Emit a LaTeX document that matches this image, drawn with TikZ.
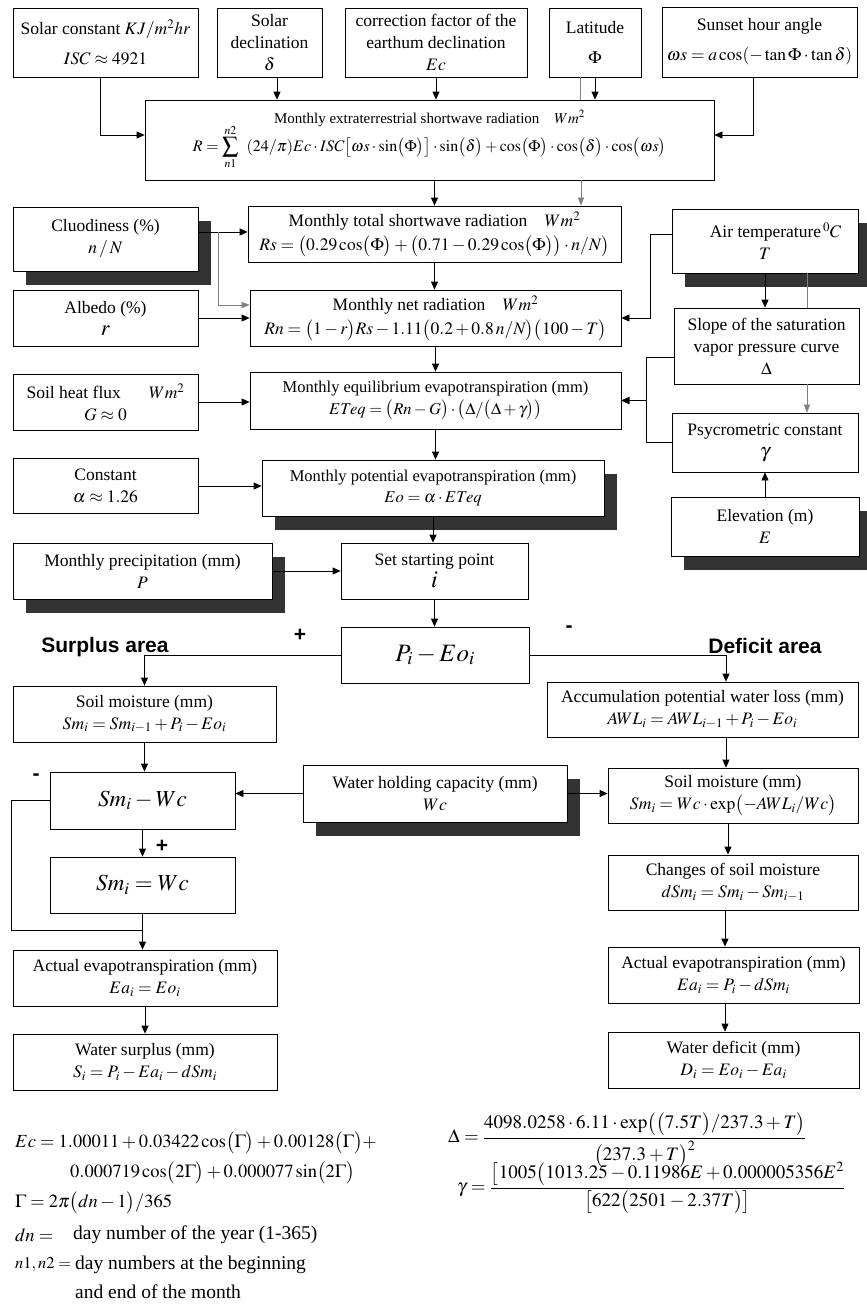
\documentclass[tikz,border=0pt]{standalone}
\usepackage{mathptmx}
\usepackage[no-math]{fontspec}
\setmainfont{Liberation Serif}
\setsansfont{Liberation Sans}
\usetikzlibrary{arrows.meta,shadows}

\tikzset{
box/.style={draw,line width=0.8pt,fill=white,align=center,inner sep=2pt,font=\fontsize{17.5}{22}\selectfont},
dropbox/.style={drop shadow={shadow xshift=13pt,shadow yshift=-14pt,fill=black!80,opacity=1}},
arr/.style={line width=0.8pt,-{Triangle[length=8pt,width=7pt]}},
faint/.style={line width=0.5pt,gray},
fainta/.style={faint,-{Triangle[length=8pt,width=6pt]}},
sign/.style={inner sep=0pt,font=\fontsize{21}{24}\selectfont\sffamily\bfseries},
formula/.style={anchor=west,inner sep=0pt,font=\fontsize{18.5}{22}\selectfont},
note/.style={anchor=west,inner sep=0pt,font=\fontsize{19.5}{22}\selectfont}
}

\begin{document}
\begin{tikzpicture}[x=1pt,y=-1pt]
\useasboundingbox[fill=white](0,0)rectangle(867,1312);
\node[box,minimum width=185pt,minimum height=69pt](solar)at(105.5,42.5){Solar constant $KJ/m^2hr$\\[8pt]$ISC\approx4921$};
\node[box,minimum width=105pt,minimum height=69pt](decl)at(269.5,42.5){Solar\\declination\\$\delta$};
\node[box,minimum width=182pt,minimum height=69pt](corr)at(436,42.5){correction factor of the\\earthum declination\\$Ec$};
\node[box,minimum width=92pt,minimum height=69pt](lat)at(595,42.5){Latitude\\[8pt]$\Phi$};
\node[box,minimum width=195pt,minimum height=70pt](sunset)at(759.5,42){Sunset hour angle\\[8pt]$\omega s=a\cos(-\tan\Phi\cdot\tan\delta)$};
\node[box,font=\fontsize{15}{19}\selectfont,minimum width=569pt,minimum height=80pt](rad)at(429.5,140){Monthly extraterrestrial shortwave radiation\quad$Wm^2$\\[-3pt]{\fontsize{16}{19}\selectfont$\displaystyle R=\sum_{n1}^{n2}\ \ (24/\pi)Ec\cdot ISC\bigl[\omega s\cdot\sin\bigl(\Phi\bigr)\bigr]\cdot\sin\bigl(\delta\bigr)+\cos\bigl(\Phi\bigr)\cdot\cos\bigl(\delta\bigr)\cdot\cos\bigl(\omega s\bigr)$}};
\node[box,minimum width=373pt,minimum height=56pt](rs)at(434.5,234){Monthly total shortwave radiation\quad$Wm^2$\\[2pt]$Rs=\bigl(0.29\cos\bigl(\Phi\bigr)+\bigl(0.71-0.29\cos\bigl(\Phi\bigr)\bigr)\cdot n/N\bigr)$};
\node[box,minimum width=371pt,minimum height=56pt](rn)at(435.5,318){Monthly net radiation\quad$Wm^2$\\[2pt]$Rn=\bigl(1-r\bigr)Rs-1.11\bigl(0.2+0.8\,n/N\bigr)\bigl(100-T\bigr)$};
\node[box,font=\fontsize{16.5}{21}\selectfont,minimum width=371pt,minimum height=57pt](eteq)at(435.5,400.5){Monthly equilibrium evapotranspiration (mm)\\[1pt]$ETeq=\bigl(Rn-G\bigr)\cdot\bigl(\Delta/\bigl(\Delta+\gamma\bigr)\bigr)$};
\node[box,dropbox,font=\fontsize{16.5}{21}\selectfont,minimum width=342pt,minimum height=56pt](eo)at(433,488){Monthly potential evapotranspiration (mm)\\$Eo=\alpha\cdot ETeq$};
\node[box,dropbox,minimum width=185pt,minimum height=64pt](cloud)at(105.5,239){Cluodiness (\%)\\$n\,/\,N$};
\node[box,minimum width=185pt,minimum height=56pt](albedo)at(105.5,318){Albedo (\%)\\{\fontsize{22}{22}\selectfont$r$}};
\node[box,minimum width=185pt,minimum height=56pt](soilheat)at(105.5,402){Soil heat flux\hspace{1.6em}$Wm^2$\\$G\approx0$};
\node[box,minimum width=185pt,minimum height=55pt](const)at(105.5,486){Constant\\$\alpha\approx1.26$};
\node[box,dropbox,minimum width=259pt,minimum height=56pt](precip)at(142.5,571){Monthly precipitation (mm)\\$P$};
\node[box,dropbox,minimum width=186pt,minimum height=64pt](air)at(765,241){\hspace{1.2em}Air temperature$\,^0C$\\$T$};
\node[box,minimum width=185pt,minimum height=76pt](slope)at(766.5,346){Slope of the saturation\\vapor pressure curve\\$\Delta$};
\node[box,minimum width=186pt,minimum height=59pt](psy)at(765,442.5){Psycrometric constant\\{\fontsize{20}{20}\selectfont$\gamma$}};
\node[box,dropbox,minimum width=188pt,minimum height=59pt](elev)at(765,526.5){Elevation (m)\\$E$};
\node[box,minimum width=187pt,minimum height=56pt](start)at(434.5,571){Set starting point\\{\fontsize{24}{22}\selectfont$i$}};
\node[box,minimum width=188pt,minimum height=56pt](diff)at(435,655){\fontsize{25}{27}\selectfont$P_i-Eo_i$};
\node[box,minimum width=263pt,minimum height=56pt](smsur)at(144.5,714){Soil moisture (mm)\\$Sm_i=Sm_{i-1}+P_i-Eo_i$};
\node[box,minimum width=185pt,minimum height=57pt](smwc)at(142.5,800.5){\fontsize{23}{25}\selectfont$Sm_i-Wc$};
\node[box,minimum width=185pt,minimum height=56pt](smeq)at(142.5,885){\fontsize{23}{25}\selectfont$Sm_i=Wc$};
\node[box,minimum width=264pt,minimum height=56pt](easur)at(145,978){Actual evapotranspiration (mm)\\$Ea_i=Eo_i$};
\node[box,minimum width=264pt,minimum height=56pt](surplus)at(145,1062){Water surplus (mm)\\$S_i=P_i-Ea_i-dSm_i$};
\node[box,dropbox,minimum width=264pt,minimum height=57pt](wc)at(435,793.5){Water holding capacity (mm)\\$Wc$};
\node[box,minimum width=311pt,minimum height=55pt](awl)at(702.5,709.5){Accumulation potential water loss (mm)\\$AWL_i=AWL_{i-1}+P_i-Eo_i$};
\node[box,minimum width=250pt,minimum height=55pt](smdef)at(733,795.5){Soil moisture (mm)\\$Sm_i=Wc\cdot\exp\bigl(-AWL_i/Wc\bigr)$};
\node[box,minimum width=250pt,minimum height=55pt](dsm)at(733,882.5){Changes of soil moisture\\$dSm_i=Sm_i-Sm_{i-1}$};
\node[box,minimum width=251pt,minimum height=56pt](eadef)at(733.5,975){Actual evapotranspiration (mm)\\$Ea_i=P_i-dSm_i$};
\node[box,minimum width=251pt,minimum height=56pt](deficit)at(733.5,1060){Water deficit (mm)\\$D_i=Eo_i-Ea_i$};
\node[sign](plusa)at(300,635){+};
\node[sign](minusa)at(569,629){-};
\node[sign](surlab)at(105,647){Surplus area};
\node[sign](deflab)at(765,646){Deficit area};
\node[sign](minusb)at(36,777){-};
\coordinate(solara)at([xshift=-5.5pt]solar.south);
\coordinate(rada)at([yshift=5pt]rad.west);
\coordinate(suna)at([xshift=-6.5pt]sunset.south);
\coordinate(radb)at([yshift=5pt]rad.east);
\coordinate(decla)at([xshift=7.5pt]decl.south);
\coordinate(lata)at([xshift=-15pt]lat.south);
\coordinate(rsb)at([xshift=146.5pt]rs.north);
\coordinate(clouda)at([yshift=7pt]cloud.east);
\coordinate(cloudb)at([xshift=20pt]clouda);
\coordinate(rnb)at([yshift=13pt]rn.west);
\coordinate(aira)at([yshift=7pt]air.west);
\coordinate(airb)at([xshift=42pt]air.south);
\coordinate(slopea)at([yshift=-11pt]slope.west);
\coordinate(awla)at([xshift=23.5pt]awl.north);
\coordinate(awlb)at([xshift=23.5pt]awl.south);
\coordinate(smdefa)at([xshift=-5pt]smdef.south);
\coordinate(dsma)at([xshift=-8pt]dsm.south);
\coordinate(eadefa)at([xshift=-8.5pt]eadef.south);
\coordinate(join)at([yshift=-17pt]smeq.south);
\draw[arr](solara)|-(rada);
\draw[arr](suna)|-(radb);
\draw[arr](decla)--(decla|-rad.north);
\draw[arr](corr.south)--(corr.south|-rad.north);
\draw[faint](lata)--(lata|-rad.north);
\draw[arr](lat.south)--(lat.south|-rad.north);
\draw[arr](rs.north|-rad.south)--(rs.north);
\draw[fainta](rsb|-rad.south)--(rsb);
\draw[arr](clouda)--(clouda-|rs.west);
\draw[fainta](cloudb)|-(rnb);
\draw[arr](albedo.east)--(albedo.east-|rn.west);
\draw[arr](rs.south)--(rs.south|-rn.north);
\draw[arr](rn.south)--(rn.south|-eteq.north);
\draw[arr](aira)--++(-21pt,0)|-(rn.east);
\draw[arr](air.south)--(air.south|-slope.north);
\draw[faint](airb)--(airb|-slope.north);
\draw[fainta](airb|-slope.south)--(airb|-psy.north);
\draw[arr](slopea)--++(-27pt,0)|-(eteq.east);
\draw[arr](psy.west)--++(-25pt,0)|-(eteq.east);
\draw[arr](elev.north)--(elev.north|-psy.south);
\draw[arr](soilheat.east)--(soilheat.east-|eteq.west);
\draw[arr](eteq.south)--(eteq.south|-eo.north);
\draw[arr](const.east)--(const.east-|eo.west);
\draw[arr](eo.south)--(eo.south|-start.north);
\draw[arr](precip.east)--(start.west);
\draw[arr](start.south)--(start.south|-diff.north);
\draw[arr](diff.west)-|(smsur.north);
\draw[arr](diff.east)-|(awla);
\draw[arr](smsur.south)--(smsur.south|-smwc.north);
\draw[arr](wc.west)--(wc.west-|smwc.east);
\draw[arr](wc.east)--(wc.east-|smdef.west);
\draw[arr](awlb)--(awlb|-smdef.north);
\draw[arr](smdefa)--(smdefa|-dsm.north);
\draw[arr](dsma)--(dsma|-eadef.north);
\draw[arr](eadefa)--(eadefa|-deficit.north);
\draw[arr](smwc.south)--node[sign,right=13pt,yshift=-3pt](plusb){+}(smeq.north);
\draw[line width=0.8pt](smwc.west)--++(-38pt,0)|-(join);
\draw[arr](smeq.south)--(smeq.south|-easur.north);
\draw[arr](easur.south)--(easur.south|-surplus.north);
\node[formula](econe)at(15,1143){$Ec=1.00011+0.03422\cos\bigl(\Gamma\bigr)+0.00128\bigl(\Gamma\bigr)+$};
\node[formula](ectwo)at(70,1173){$0.000719\cos\bigl(2\Gamma\bigr)+0.000077\sin\bigl(2\Gamma\bigr)$};
\node[formula](gam)at(15,1203){$\Gamma=2\pi\bigl(dn-1\bigr)/365$};
\node[formula](dn)at(15,1235){$dn=$};
\node[note](dntxt)at(73,1235){day number of the year (1-365)};
\node[formula,font=\fontsize{16.5}{20}\selectfont](nn)at(15,1265){$n1,n2=$};
\node[note](nntxt)at(75,1265){day numbers at the beginning};
\node[note](nntxtb)at(75,1292){and end of the month};
\node[formula,font=\fontsize{19}{22}\selectfont](delt)at(448,1140){$\Delta=\displaystyle\frac{4098.0258\cdot6.11\cdot\exp\bigl(\bigl(7.5T\bigr)/237.3+T\bigr)}{\bigl(237.3+T\bigr)^2}$};
\node[formula,font=\fontsize{19}{22}\selectfont](gamm)at(457,1188){$\gamma=\displaystyle\frac{\bigl[1005\bigl(1013.25-0.11986E+0.000005356E^2}{\bigl[622\bigl(2501-2.37T\bigr)\bigr]}$};
\end{tikzpicture}
\end{document}
